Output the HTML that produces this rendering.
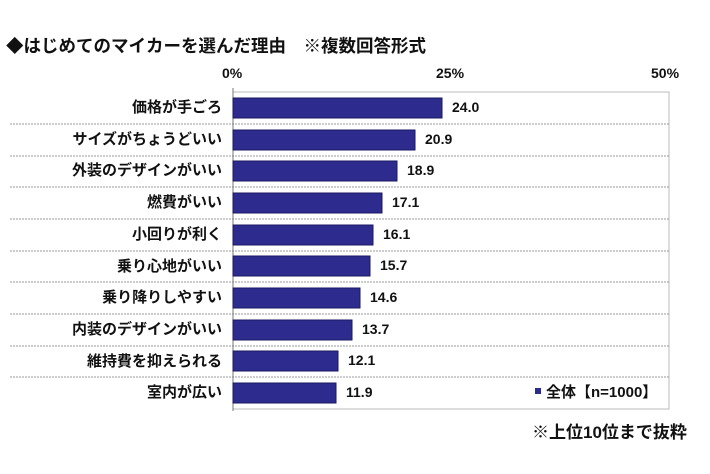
<!DOCTYPE html>
<html><head><meta charset="utf-8"><style>
body{margin:0;background:#fff;width:710px;height:474px;overflow:hidden;font-family:"Liberation Sans","Noto Sans CJK JP",sans-serif;font-weight:bold;color:#111}
.a{position:absolute;white-space:nowrap}
</style></head><body>
<div class="a" style="left:6px;top:33px;font-size:17.5px">◆はじめてのマイカーを選んだ理由　※複数回答形式</div>
<div class="a" style="left:222px;top:65px;font-size:14px">0%</div>
<div class="a" style="left:436px;top:65px;font-size:14px">25%</div>
<div class="a" style="left:651px;top:65px;font-size:14px">50%</div>
<svg width="710" height="474" style="position:absolute;left:0;top:0">
<rect x="233" y="92" width="436" height="317" fill="none" stroke="#bbb" stroke-width="1"/>
<g stroke="#999" stroke-dasharray="2,1">
<line x1="10" x2="669" y1="124" y2="124"/><line x1="10" x2="669" y1="156" y2="156"/><line x1="10" x2="669" y1="187" y2="187"/><line x1="10" x2="669" y1="219" y2="219"/><line x1="10" x2="669" y1="251" y2="251"/><line x1="10" x2="669" y1="282" y2="282"/><line x1="10" x2="669" y1="314" y2="314"/><line x1="10" x2="669" y1="346" y2="346"/><line x1="10" x2="669" y1="377" y2="377"/>
</g>
<line x1="233" x2="233" y1="88" y2="411" stroke="#777"/>
<g fill="#2d2b8e" stroke="#1a1960">
<rect x="233" y="98" width="209" height="20"/>
<rect x="233" y="130" width="182" height="20"/>
<rect x="233" y="161" width="164" height="20"/>
<rect x="233" y="193" width="149" height="20"/>
<rect x="233" y="225" width="140" height="20"/>
<rect x="233" y="256" width="137" height="20"/>
<rect x="233" y="288" width="127" height="20"/>
<rect x="233" y="320" width="119" height="20"/>
<rect x="233" y="351" width="105" height="20"/>
<rect x="233" y="383" width="103" height="20"/>
</g>
<rect x="535" y="388" width="6" height="6" fill="#2d2b8e"/>
</svg>
<div style="position:absolute;left:0;top:92px;width:222px;text-align:right;font-size:15px;line-height:31.7px">価格が手ごろ<br>サイズがちょうどいい<br>外装のデザインがいい<br>燃費がいい<br>小回りが利く<br>乗り心地がいい<br>乗り降りしやすい<br>内装のデザインがいい<br>維持費を抑えられる<br>室内が広い</div>
<div class="a" style="left:452px;top:99px;font-size:14px">24.0</div>
<div class="a" style="left:425px;top:131px;font-size:14px">20.9</div>
<div class="a" style="left:407px;top:162px;font-size:14px">18.9</div>
<div class="a" style="left:392px;top:194px;font-size:14px">17.1</div>
<div class="a" style="left:383px;top:226px;font-size:14px">16.1</div>
<div class="a" style="left:380px;top:257px;font-size:14px">15.7</div>
<div class="a" style="left:370px;top:289px;font-size:14px">14.6</div>
<div class="a" style="left:362px;top:321px;font-size:14px">13.7</div>
<div class="a" style="left:348px;top:352px;font-size:14px">12.1</div>
<div class="a" style="left:346px;top:384px;font-size:14px">11.9</div>
<div class="a" style="left:546px;top:381px;font-size:15px">全体【n=1000】</div>
<div class="a" style="left:532px;top:418px;font-size:17px">※上位10位まで抜粋</div>
</body></html>
